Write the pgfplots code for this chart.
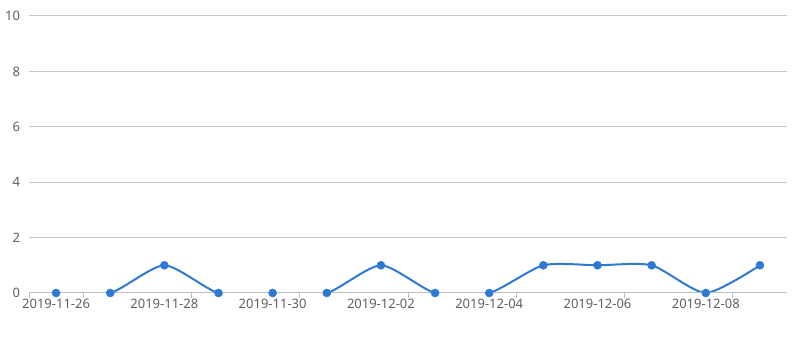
\documentclass[border=0pt]{standalone}
\usepackage{pgfplots}
\pgfplotsset{compat=1.18}
\usepackage{fontspec}
\setmainfont{Noto Sans}
\definecolor{lineblue}{RGB}{46,122,210}
\definecolor{gridgray}{RGB}{200,200,200}
\definecolor{axisgray}{RGB}{185,190,200}
\definecolor{textgray}{RGB}{95,95,95}
\begin{document}
\begin{tikzpicture}
\path[use as bounding box] (0,0) rectangle (608.25pt,255.75pt);
\begin{axis}[
  at={(21.75pt,36pt)}, anchor=south west,
  scale only axis, width=568.5pt, height=207.75pt,
  xmin=-0.5, xmax=13.5, ymin=0, ymax=10,
  axis x line*=bottom, axis y line*=left,
  x axis line style={draw=axisgray, line width=0.75pt, -},
  y axis line style={draw=none},
  xtick={0,2,4,6,8,10,12},
  xticklabels={2019-11-26,2019-11-28,2019-11-30,2019-12-02,2019-12-04,2019-12-06,2019-12-08},
  extra x ticks={-0.5,0.5,2.5,4.5,6.5,8.5,10.5,12.5},
  extra x tick labels={},
  extra x tick style={major tick length=3.75pt, tick align=outside, grid=none},
  major tick length=0pt,
  ytick={0,2,4,6,8,10},
  ymajorgrids, grid style={draw=gridgray, line width=0.75pt},
  xtick style={draw=axisgray, line width=0.75pt}, ytick style={draw=none},
  tick label style={font=\fontsize{9.75}{11}\selectfont, text=textgray},
  xticklabel style={anchor=north, inner sep=0pt, yshift=-4pt},
  yticklabel style={anchor=east, inner sep=0pt, xshift=-6.5pt},
  /pgf/number format/assume math mode=true,
]
\addplot[lineblue, line width=1.5pt, smooth, tension=0.4] coordinates {
(0,0) (1,0) (2,1) (3,0) (4,0) (5,0) (6,1) (7,0) (8,0) (9,1) (10,1) (11,1) (12,0) (13,1)};
\addplot[white, line width=2.2pt, forget plot] coordinates {(-0.5,0) (13.5,0)};
\addplot[axisgray, line width=0.75pt, forget plot] coordinates {(-0.5,0) (13.5,0)};
\addplot[only marks, mark=*, mark size=3pt, lineblue, mark options={fill=lineblue, draw=lineblue}] coordinates {
(0,0) (1,0) (2,1) (3,0) (4,0) (5,0) (6,1) (7,0) (8,0) (9,1) (10,1) (11,1) (12,0) (13,1)};
\end{axis}
\end{tikzpicture}
\end{document}
